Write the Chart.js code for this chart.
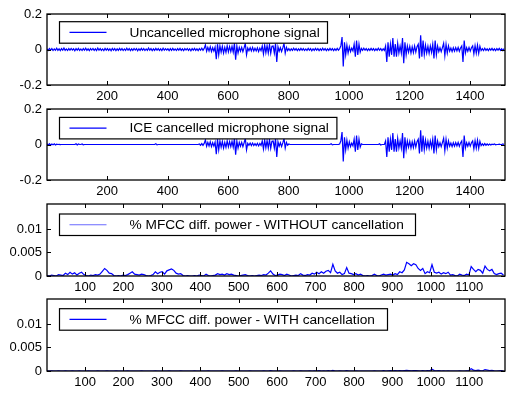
<!DOCTYPE html>
<html>
<head>
<meta charset="utf-8">
<script src="https://cdn.jsdelivr.net/npm/chart.js@4.4.1/dist/chart.umd.min.js"></script>
<style>
  html, body { margin: 0; padding: 0; background: #fff; }
  #wrap { position: relative; width: 506px; height: 394px; overflow: hidden; }
  canvas { position: absolute; left: 0; }
</style>
</head>
<body>
<div id="wrap">
  <canvas id="mic"></canvas>
  <canvas id="ice"></canvas>
  <canvas id="mfccOff"></canvas>
  <canvas id="mfccOn"></canvas>
</div>
<script>
// samples between stored points
const MIC_STEP = 4
const MFCC_STEP = 6

const micXTicks = [200, 400, 600, 800, 1000, 1200, 1400]
const mfccXTicks = [100, 200, 300, 400, 500, 600, 700, 800, 900, 1000, 1100]
const micYTicks = [-0.2, 0, 0.2]
const micYLabels = ["-0.2", "0", "0.2"]
const mfccYTicks = [0, 0.005, 0.01]
const mfccYLabels = ["0", "0.005", "0.01"]

const uncancelled = [
  0.004, -0.005, 0.006, -0.003, 0.005, -0.006, 0.003, -0.004, 0.007, -0.005,
  0.004, -0.006, 0.005, -0.004, 0.008, -0.005, 0.003, -0.006, 0.005, -0.004,
  0.006, -0.003, 0.004, -0.007, 0.005, -0.004, 0.006, -0.005, 0.003, -0.006,
  0.005, -0.004, 0.007, -0.005, 0.004, -0.006, 0.005, -0.003, 0.006, -0.005,
  0.004, -0.006, 0.008, -0.004, 0.005, -0.005, 0.003, -0.006, 0.006, -0.004,
  0.005, -0.005, 0.004, -0.007, 0.006, -0.004, 0.005, -0.006, 0.004, -0.005,
  0.006, -0.004, 0.005, -0.006, 0.003, -0.005, 0.007, -0.004, 0.005, -0.006,
  0.004, -0.005, 0.006, -0.003, 0.005, -0.007, 0.004, -0.005, 0.006, -0.004,
  0.005, -0.006, 0.003, -0.005, 0.008, -0.004, 0.005, -0.006, 0.004, -0.005,
  0.006, -0.004, 0.005, -0.005, 0.004, -0.006, 0.007, -0.004, 0.005, -0.003,
  0.004, -0.006, 0.005, -0.005, 0.006, -0.004, 0.003, -0.006, 0.005, -0.004,
  0.006, -0.005, 0.004, -0.006, 0.005, -0.003, 0.006, -0.005, 0.004, -0.007,
  0.005, -0.004, 0.006, -0.005, 0.004, -0.006, 0.005, -0.004, 0.007, -0.005,
  0.006, 0.026, -0.01, 0.012, -0.008, 0.015, -0.012, 0.01, -0.009, 0.014,
  -0.055, 0.03, -0.03, 0.02, -0.015, 0.018, -0.02, 0.012, -0.016, 0.02,
  -0.014, 0.016, -0.012, 0.018, -0.015, 0.034, -0.057, 0.02, -0.02, 0.012,
  -0.01, 0.012, -0.012, 0.01, 0.034, -0.03, 0.008, -0.007, 0.01, -0.008,
  0.012, -0.009, 0.007, -0.008, 0.01, -0.012, 0.008, -0.007, 0.02, -0.025,
  0.025, -0.018, 0.022, -0.02, 0.028, -0.022, 0.018, 0.02, -0.02, 0.034,
  -0.07, 0.015, -0.01, 0.01, -0.012, 0.009, 0.034, -0.02, 0.012, -0.006,
  0.005, -0.006, 0.004, -0.005, 0.007, -0.004, 0.005, -0.006, 0.004, -0.005,
  0.006, -0.004, 0.005, -0.006, 0.003, -0.005, 0.006, -0.004, 0.005, -0.007,
  0.004, -0.005, 0.006, -0.004, 0.005, -0.006, 0.004, -0.005, 0.007, -0.004,
  0.005, -0.006, 0.004, -0.005, 0.006, -0.004, 0.005, -0.006, 0.004, -0.005,
  0.006, -0.004, 0.005, 0.02, 0.07, -0.095, 0.04, -0.03, 0.025, -0.02,
  0.015, -0.012, 0.008, -0.008, 0.03, -0.04, 0.05, -0.03, 0.03, -0.015,
  0.006, -0.005, 0.007, -0.004, 0.005, -0.006, 0.004, -0.005, 0.006, -0.004,
  0.005, -0.006, 0.004, -0.005, 0.007, -0.004, 0.005, -0.006, 0.004, -0.005,
  0.02, -0.07, 0.04, -0.04, 0.03, -0.03, 0.065, -0.04, 0.03, -0.04,
  0.035, -0.02, 0.02, -0.02, 0.065, -0.077, 0.04, -0.03, 0.02, -0.015,
  0.018, -0.02, 0.015, -0.018, 0.02, -0.015, 0.016, 0.03, -0.05, 0.08,
  -0.04, 0.05, -0.03, 0.025, -0.02, 0.018, -0.022, 0.02, -0.016, 0.03,
  -0.05, 0.05, -0.03, 0.02, -0.012, 0.01, -0.012, 0.011, 0.035, -0.035,
  0.03, -0.02, 0.02, -0.01, 0.008, -0.012, 0.01, -0.009, 0.011, -0.008,
  0.012, -0.01, 0.009, 0.02, -0.07, 0.05, -0.02, 0.01, -0.01, 0.012,
  -0.009, 0.01, 0.02, -0.025, 0.022, -0.02, 0.025, -0.022, 0.018, -0.006,
  0.005, -0.006, 0.007, -0.005, 0.004, -0.006, 0.005, -0.004, 0.006, -0.005,
  0.004, -0.006, 0.005, -0.004, 0.006, -0.005, 0.004, -0.006, 0.005
]

const iceCancelled = [
  0.004, -0.003, 0.005, -0.004, 0.003, -0.002, 0.004, -0.003, 0.002, 0,
  0.001, -0.001, 0, 0, 0, 0, 0, 0, 0, 0,
  0, 0, 0, 0, 0.004, -0.003, 0.003, 0, 0, 0.003,
  -0.002, 0, 0, 0, 0, 0, 0, 0, 0, 0,
  0, 0, 0, 0, 0, 0, 0, 0, 0, 0,
  0, 0, 0, 0, 0, 0, 0, 0, 0, 0,
  0, 0, 0, 0, 0, 0, 0, 0, 0, 0,
  0, 0, 0, 0, 0, 0, 0, 0, 0, 0,
  0, 0, 0, 0, 0, 0, 0, 0, 0, 0,
  0.004, -0.002, 0, 0, 0, 0, 0, 0, 0, 0,
  0, 0, 0, 0, 0, 0, 0, 0, 0, 0,
  0, 0, 0, 0, 0, 0, 0, 0, 0, 0,
  0, 0, 0, 0, 0, 0, 0.003, -0.004, 0.005, -0.005,
  0.006, 0.026, -0.01, 0.012, -0.008, 0.015, -0.012, 0.01, -0.009, 0.014,
  -0.055, 0.03, -0.03, 0.02, -0.015, 0.018, -0.02, 0.012, -0.016, 0.02,
  -0.014, 0.016, -0.012, 0.018, -0.015, 0.034, -0.057, 0.02, -0.02, 0.012,
  -0.01, 0.012, -0.012, 0.01, 0.034, -0.03, 0.006, -0.005, 0.008, -0.006,
  0.008, -0.006, 0.005, -0.006, 0.007, -0.008, 0.006, -0.005, 0.02, -0.025,
  0.025, -0.018, 0.022, -0.02, 0.028, -0.022, 0.018, 0.02, -0.02, 0.034,
  -0.07, 0.015, -0.01, 0.01, -0.012, 0.009, 0.034, -0.02, 0.012, -0.004,
  0.003, 0, 0, 0, 0, 0, 0, 0, 0, 0,
  0, 0, 0, 0, 0, 0, 0, 0, 0, 0,
  0, 0, 0, 0, 0, 0, 0, 0, 0, 0,
  0, 0, 0, 0, 0, 0.004, -0.002, 0, 0, 0,
  0, 0, 0.003, 0.02, 0.07, -0.095, 0.04, -0.03, 0.025, -0.02,
  0.015, -0.012, 0.008, -0.008, 0.03, -0.04, 0.05, -0.03, 0.03, -0.015,
  0.004, 0, 0, 0, 0, 0, 0, 0, 0, 0,
  0, 0, 0, 0, 0, 0.004, -0.003, 0, 0, 0,
  0.02, -0.07, 0.04, -0.04, 0.03, -0.03, 0.065, -0.04, 0.03, -0.04,
  0.035, -0.02, 0.02, -0.02, 0.065, -0.077, 0.04, -0.03, 0.02, -0.015,
  0.018, -0.02, 0.015, -0.018, 0.02, -0.015, 0.016, 0.03, -0.05, 0.08,
  -0.04, 0.05, -0.03, 0.025, -0.02, 0.018, -0.022, 0.02, -0.016, 0.03,
  -0.05, 0.05, -0.03, 0.02, -0.012, 0.01, -0.012, 0.011, 0.035, -0.035,
  0.03, -0.02, 0.02, -0.01, 0.008, -0.012, 0.01, -0.009, 0.011, -0.008,
  0.012, -0.01, 0.009, 0.02, -0.07, 0.05, -0.02, 0.01, -0.01, 0.012,
  -0.009, 0.01, 0.02, -0.025, 0.022, -0.02, 0.025, -0.022, 0.018, -0.006,
  0.004, -0.005, 0.005, -0.004, 0.003, -0.004, 0.003, -0.003, 0.002, 0,
  0.003, -0.002, 0, 0, 0.002, 0, 0, 0.003, 0
]

const mfccWithout = [
  0.0001, 0, 0.0002, 0.0001, 0, 0.0003, 0.0002, 0.0001, 0.0006, 0.0003,
  0.0008, 0.0004, 0.0007, 0.0002, 0.0006, 0.0008, 0.0003, 0.0001, 0, 0.0002,
  0.0001, 0.0003, 0.0002, 0.0004, 0.001, 0.0016, 0.0012, 0.0006, 0.0005, 0.0001,
  0, 0.0001, 0, 0.0002, 0.0001, 0.0003, 0.0006, 0.0009, 0.0004, 0.0003,
  0.0002, 0.0004, 0.0003, 0.0001, 0, 0.0001, 0.0003, 0.0009, 0.0005, 0.0008,
  0.0009, 0.0004, 0.0011, 0.0013, 0.0015, 0.0012, 0.0006, 0.0004, 0.0005, 0.0001,
  0, 0.0001, 0, 0, 0.0001, 0, 0.0002, 0.0001, 0, 0.0004,
  0.0001, 0, 0.0001, 0.0002, 0.0005, 0.0003, 0.0004, 0.0002, 0.0005, 0.0003,
  0.0004, 0.0002, 0.0001, 0, 0.0001, 0.0002, 0.0003, 0.0001, 0, 0.0001,
  0, 0.0001, 0.0002, 0.0001, 0.0003, 0.0002, 0.0006, 0.0011, 0.0004, 0.0001,
  0.0002, 0.0004, 0.0003, 0.0001, 0.0004, 0.0002, 0, 0.0001, 0.0002, 0.0001,
  0.0005, 0.0002, 0.0001, 0.0003, 0.0002, 0.0006, 0.0004, 0.0008, 0.0005, 0.0009,
  0.0006, 0.001, 0.0012, 0.0007, 0.0025, 0.0011, 0.0006, 0.0008, 0.0003, 0.0005,
  0.0018, 0.0006, 0.0005, 0.0003, 0.0005, 0.0002, 0.0004, 0.0001, 0, 0.0001,
  0, 0.0001, 0.0004, 0.0001, 0, 0.0002, 0.0004, 0.0002, 0.0003, 0.0004,
  0.0002, 0.0005, 0.0003, 0.0009, 0.0007, 0.0013, 0.0029, 0.0026, 0.0022, 0.0026,
  0.0024, 0.0016, 0.0012, 0.0016, 0.0005, 0.0009, 0.0007, 0.0024, 0.0008, 0.0006,
  0.0008, 0.0004, 0.0007, 0.0005, 0.0008, 0.0002, 0.0003, 0.0001, 0, 0.0004,
  0.0002, 0.0001, 0.0004, 0.0002, 0.002, 0.0014, 0.0009, 0.0014, 0.0012, 0.0006,
  0.0021, 0.0014, 0.0011, 0.0014, 0.0005, 0.0003, 0.0005, 0.0006, 0.0002
]

const mfccWith = [
  0.00005, 0, 0.00005, 0, 0, 0.00005, 0, 0, 0.00005, 0,
  0, 0.00005, 0, 0, 0.00005, 0, 0, 0, 0.00005, 0,
  0, 0, 0.00005, 0, 0, 0, 0.00005, 0, 0, 0,
  0.00005, 0, 0, 0, 0, 0.00005, 0, 0, 0, 0,
  0, 0.00005, 0, 0, 0, 0, 0, 0.00005, 0, 0,
  0, 0, 0, 0.00005, 0, 0, 0, 0, 0.00005, 0,
  0, 0, 0, 0, 0.00005, 0, 0, 0, 0, 0,
  0.00005, 0, 0, 0, 0, 0, 0.00005, 0, 0, 0,
  0, 0, 0.00005, 0, 0, 0, 0, 0, 0.00005, 0,
  0, 0, 0, 0, 0.00005, 0, 0, 0.0001, 0, 0,
  0, 0.00005, 0, 0, 0, 0, 0, 0.00005, 0, 0,
  0.00005, 0, 0, 0, 0.00005, 0, 0.00005, 0, 0.0001, 0,
  0.00005, 0, 0.0001, 0, 0.00015, 0, 0, 0.00005, 0, 0,
  0.0001, 0, 0, 0, 0.00005, 0, 0, 0, 0, 0,
  0, 0, 0.00005, 0, 0, 0, 0.0001, 0, 0.00005, 0.0001,
  0.00005, 0.0001, 0.00005, 0.0001, 0.00005, 0.0001, 0.00015, 0.0001, 0.00005, 0.0001,
  0.0001, 0.00005, 0, 0.0001, 0, 0.0001, 0.00005, 0.0004, 0.0001, 0.00005,
  0.0001, 0, 0.00005, 0, 0.00005, 0, 0, 0, 0, 0.00005,
  0, 0, 0.00005, 0.0001, 0.0005, 0.0002, 0.0001, 0.0002, 0.0001, 0.00005,
  0.0003, 0.0002, 0.0001, 0.00015, 0.00005, 0, 0.00005, 0.0001, 0
]

const FONT = "'Liberation Sans', Arial, Helvetica, sans-serif"

// inward ticks on all four sides, the box, and a boxed legend inside the plot
const framePlugin = {
  id: "frame",
  afterDraw(chart, args, opts) {
    const { ctx, chartArea: a, scales } = chart
    ctx.save()
    ctx.strokeStyle = "#000"
    ctx.lineWidth = 1
    ctx.beginPath()
    scales.x.ticks.forEach(t => {
      const px = Math.round(scales.x.getPixelForValue(t.value)) + 0.5
      ctx.moveTo(px, a.bottom); ctx.lineTo(px, a.bottom - 4)
      ctx.moveTo(px, a.top); ctx.lineTo(px, a.top + 4)
    })
    scales.y.ticks.forEach(t => {
      const py = Math.round(scales.y.getPixelForValue(t.value)) + 0.5
      ctx.moveTo(a.left, py); ctx.lineTo(a.left + 4, py)
      ctx.moveTo(a.right, py); ctx.lineTo(a.right - 4, py)
    })
    ctx.stroke()
    ctx.lineWidth = 1.3
    ctx.strokeRect(a.left, a.top, a.right - a.left, a.bottom - a.top)

    // legend
    const bx = a.left + 12.5, by = a.top + opts.top, bh = 21.5
    ctx.fillStyle = "#fff"
    ctx.fillRect(bx, by, opts.width, bh)
    ctx.lineWidth = 1.2
    ctx.strokeRect(bx, by, opts.width, bh)
    ctx.strokeStyle = opts.swatch
    ctx.lineWidth = 1.2
    ctx.beginPath()
    ctx.moveTo(bx + 10, by + bh / 2); ctx.lineTo(bx + 47, by + bh / 2)
    ctx.stroke()
    ctx.fillStyle = "#000"
    ctx.font = "13.7px " + FONT
    ctx.textBaseline = "middle"
    ctx.fillText(chart.data.datasets[0].label, bx + 70, by + bh / 2 + 0.5)
    ctx.restore()
  }
}

function panel(id, plotTop, plotBottom, cfg) {
  const canvas = document.getElementById(id)
  const h = plotBottom - plotTop + 14 + 25
  canvas.width = 506
  canvas.height = h
  canvas.style.top = (plotTop - 14) + "px"
  canvas.style.width = "506px"
  canvas.style.height = h + "px"

  const points = cfg.values.map((v, i) => ({ x: 1 + i * cfg.step, y: v }))
  const tickFont = { family: FONT, size: 13 }

  return new Chart(canvas.getContext("2d"), {
    type: "line",
    data: {
      datasets: [{
        label: cfg.label,
        data: points,
        borderColor: "#0000ff",
        borderWidth: 1.2,
        pointRadius: 0,
        tension: 0,
        fill: false
      }]
    },
    options: {
      responsive: false,
      animation: false,
      devicePixelRatio: 1,
      layout: { padding: { top: 14, right: 1, left: 0, bottom: 0 } },
      plugins: {
        legend: { display: false },
        tooltip: { enabled: false },
        frame: { width: cfg.legendWidth, top: cfg.legendTop, swatch: cfg.swatch || "#0000ff" }
      },
      scales: {
        x: {
          type: "linear",
          min: cfg.xMin,
          max: cfg.xMax,
          grid: { display: false, drawTicks: false },
          border: { display: false },
          ticks: { color: "#000", font: tickFont, padding: 4, maxRotation: 0, autoSkip: false, callback: v => String(v) },
          afterBuildTicks: s => { s.ticks = cfg.xTicks.map(v => ({ value: v })) },
          afterFit: s => { s.height = 25 }
        },
        y: {
          min: cfg.yMin,
          max: cfg.yMax,
          grid: { display: false, drawTicks: false },
          border: { display: false },
          ticks: { color: "#000", font: tickFont, padding: 5, callback: (v, i) => cfg.yLabels[i] },
          afterBuildTicks: s => { s.ticks = cfg.yTicks.map(v => ({ value: v })) },
          afterFit: s => { s.width = 47 }
        }
      }
    },
    plugins: [framePlugin]
  })
}

panel("mic", 14, 85, {
  label: "Uncancelled microphone signal",
  values: uncancelled, step: MIC_STEP,
  xMin: 1, xMax: 1516, xTicks: micXTicks,
  yMin: -0.2, yMax: 0.2, yTicks: micYTicks, yLabels: micYLabels,
  legendWidth: 268, legendTop: 7.7
})

panel("ice", 109, 180, {
  label: "ICE cancelled microphone signal",
  values: iceCancelled, step: MIC_STEP,
  xMin: 1, xMax: 1516, xTicks: micXTicks,
  yMin: -0.2, yMax: 0.2, yTicks: micYTicks, yLabels: micYLabels,
  legendWidth: 277.4, legendTop: 8.4
})

panel("mfccOff", 204, 276, {
  label: "% MFCC diff. power - WITHOUT cancellation",
  values: mfccWithout, step: MFCC_STEP,
  xMin: 1, xMax: 1193, xTicks: mfccXTicks,
  yMin: 0, yMax: 0.0153, yTicks: mfccYTicks, yLabels: mfccYLabels,
  legendWidth: 356, legendTop: 10, swatch: "#6a6aff"
})

panel("mfccOn", 299, 371, {
  label: "% MFCC diff. power - WITH cancellation",
  values: mfccWith, step: MFCC_STEP,
  xMin: 1, xMax: 1193, xTicks: mfccXTicks,
  yMin: 0, yMax: 0.0153, yTicks: mfccYTicks, yLabels: mfccYLabels,
  legendWidth: 328, legendTop: 9.7
})
</script>
</body>
</html>
